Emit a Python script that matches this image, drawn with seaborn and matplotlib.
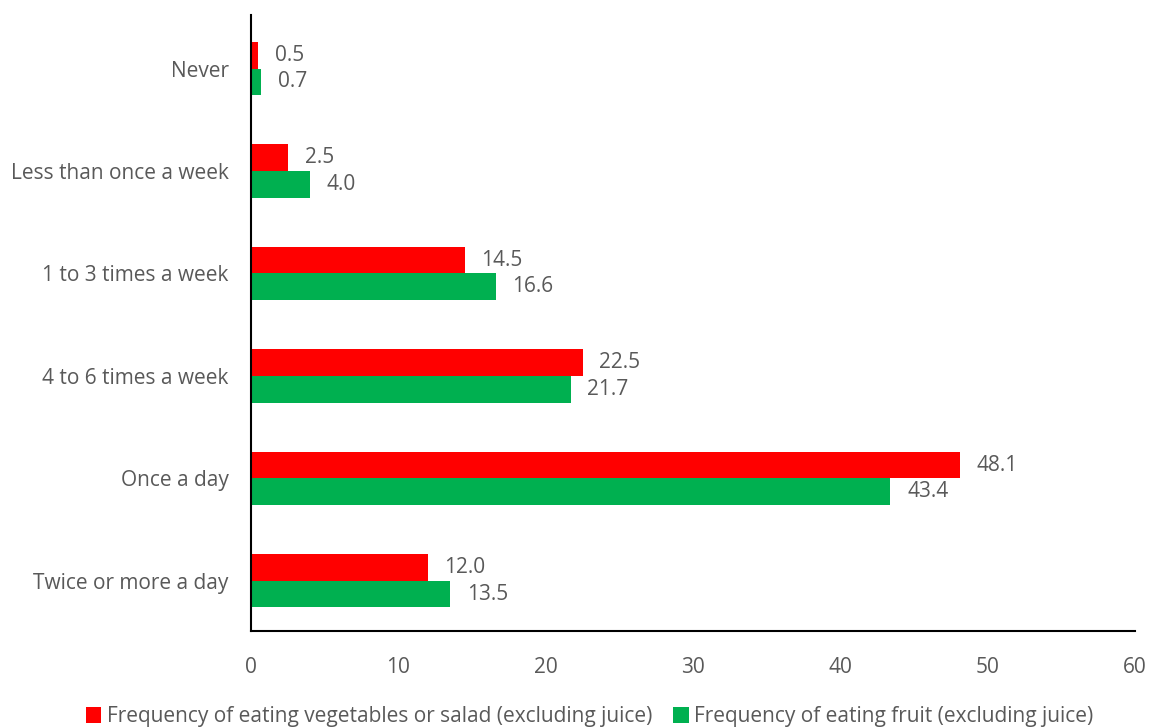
import matplotlib.pyplot as plt
import seaborn as sns
import pandas as pd

categories = ['Never', 'Less than once a week', '1 to 3 times a week',
              '4 to 6 times a week', 'Once a day', 'Twice or more a day']
vegetables = [0.5, 2.5, 14.5, 22.5, 48.1, 12.0]
fruit = [0.7, 4.0, 16.6, 21.7, 43.4, 13.5]
series_names = ['Frequency of eating vegetables or salad (excluding juice)',
                'Frequency of eating fruit (excluding juice)']
colors = ['#FF0000', '#00B050']
x_ticks = [0, 10, 20, 30, 40, 50, 60]

text_color = '#595959'

sns.set_theme(style='white')
plt.rcParams['font.family'] = ['Open Sans', 'DejaVu Sans']

df = pd.DataFrame({
    'category': categories * 2,
    'value': vegetables + fruit,
    'series': [series_names[0]] * len(categories) + [series_names[1]] * len(categories),
})

fig = plt.figure(figsize=(11.49, 7.27), dpi=100)
ax = fig.add_axes([0.2185, 0.132, 0.7693, 0.847])

sns.barplot(data=df, x='value', y='category', hue='series', orient='h',
            palette=colors, width=0.52, saturation=1, ax=ax, order=categories,
            hue_order=series_names, linewidth=0)

# value labels next to each bar
for container in ax.containers:
    ax.bar_label(container, fmt='%.1f', padding=12, fontsize=15, color=text_color)

ax.set_xlim(0, 60)
ax.set_xticks(x_ticks)
ax.set_ylim(5.49, -0.52)
ax.set_xlabel('')
ax.set_ylabel('')
ax.tick_params(axis='both', length=0, labelsize=15, colors=text_color)
ax.tick_params(axis='x', pad=19)
ax.tick_params(axis='y', pad=16)
for side in ['top', 'right']:
    ax.spines[side].set_visible(False)
for side in ['left', 'bottom']:
    ax.spines[side].set_color('black')
    ax.spines[side].set_linewidth(1.5)

handles, labels = ax.get_legend_handles_labels()
ax.legend(handles, labels, loc='lower center', bbox_to_anchor=(0.513, -0.026),
          bbox_transform=fig.transFigure, ncol=2, frameon=False, fontsize=15,
          labelcolor=text_color, handlelength=0.75, handleheight=0.75,
          handletextpad=0.25, columnspacing=1.0)

fig.savefig('out.png', dpi=100)
